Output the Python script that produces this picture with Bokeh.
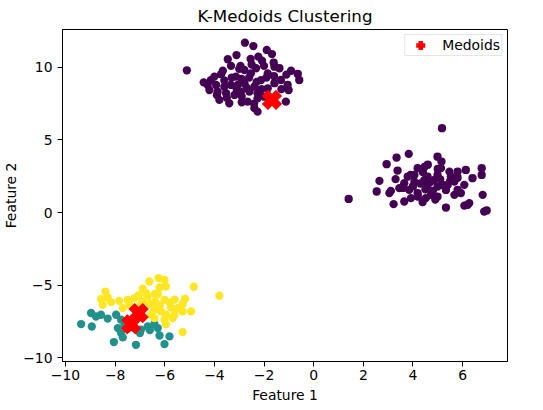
import math
from bokeh.plotting import figure
from bokeh.models import Range1d, FixedTicker, Legend, LegendItem
from bokeh.embed import file_html
from bokeh.resources import INLINE

# ---- data ----
# cluster 0 (purple): upper blob
purple_top_x = [-2.77, -2.43, -1.89, -1.68, -3.11, -3.46, -5.11, -2.23, -2.54, -2.08,
                -1.61, -1.58, -1.38, -0.91, -0.64, -0.58, -2.95, -3.33, -3.66, -3.73,
                -4.00, -4.14, -4.43, -4.20, -3.87, -3.80, -3.40, -2.90, -2.39, -2.26,
                -1.12, -1.01, -1.05, -1.32, -1.85, -2.12, -2.53, -2.79, -3.13, -3.33,
                -3.53, -2.59, -2.26, -1.85, -1.58, -2.39, -2.93, -3.19, -3.60, -3.93,
                -4.27, -3.06, -2.66, -2.79, -2.32, -2.26, -1.99,
                -2.90, -2.60, -2.30, -3.10, -3.30, -1.90, -2.70, -1.60, -3.60, -2.50,
                -2.10, -2.90, -1.30, -1.10, -3.90, -2.40, -1.80, -3.50, -2.00, -3.00]
purple_top_y = [11.70, 11.47, 11.20, 10.92, 10.85, 10.56, 9.80, 10.74, 10.58, 10.46,
                10.32, 10.05, 9.94, 9.77, 9.55, 9.13, 10.10, 10.10, 9.77, 9.53,
                9.36, 9.13, 8.97, 8.44, 8.33, 7.76, 7.53, 7.60, 7.19, 6.95,
                7.64, 8.44, 8.79, 9.13, 9.59, 9.13, 9.59, 8.91, 9.36, 8.79,
                8.22, 8.33, 8.22, 8.56, 8.91, 8.67, 8.33, 8.10, 8.67, 8.79,
                8.79, 8.79, 7.64, 9.82, 9.94, 7.87, 7.98,
                9.20, 9.30, 9.00, 8.50, 9.30, 9.30, 8.60, 9.40, 9.10, 10.20,
                8.50, 8.00, 8.50, 9.50, 8.10, 7.50, 7.80, 7.90, 10.10, 9.90]
# cluster 0 (purple): right blob
purple_right_x = [5.17, 1.41, 3.83, 3.34, 2.94, 3.38, 2.65, 2.54, 3.05, 3.22,
                  3.65, 4.99, 5.15, 4.48, 4.19, 3.79, 4.06, 4.59, 4.99, 5.47,
                  5.80, 6.13, 6.77, 6.77, 6.40, 6.81, 6.87, 6.97, 6.20, 6.07,
                  5.33, 4.39, 5.93, 6.07, 5.67, 5.40, 4.99, 4.72, 4.59, 4.19,
                  3.85, 3.65, 3.45, 3.11, 4.06, 4.46, 4.86, 5.13, 5.53, 5.80,
                  5.33, 4.99, 4.52, 3.92, 5.67, 6.27,
                  4.30, 4.70, 5.10, 4.00, 4.50, 5.20, 3.90, 4.40, 4.80, 5.50,
                  4.20, 3.60, 5.00, 4.60, 5.80, 3.30, 4.90]
purple_right_y = [5.81, 0.94, 4.04, 3.79, 3.33, 2.89, 2.18, 1.45, 1.34, 0.58,
                  0.76, 3.85, 3.51, 3.17, 3.06, 2.48, 2.59, 2.48, 2.59, 2.82,
                  2.82, 2.94, 3.06, 2.59, 2.37, 1.22, 0.07, 0.15, 0.53, 0.48,
                  0.34, 0.72, 1.34, 1.91, 2.13, 1.91, 1.79, 1.22, 1.91, 1.34,
                  1.56, 2.02, 1.68, 1.49, 2.13, 2.25, 2.25, 3.06, 2.48, 1.56,
                  1.56, 1.10, 0.99, 0.99, 1.22, 0.65,
                  2.00, 2.10, 2.30, 1.80, 1.60, 1.90, 2.60, 2.80, 1.50, 2.20,
                  1.10, 1.70, 3.00, 3.30, 2.40, 2.30, 0.90]
# cluster 1 (teal)
teal_x = [-9.37, -8.94, -8.97, -8.77, -8.57, -7.96, -7.76, -7.62, -7.76, -7.69,
          -8.05, -7.16, -6.96, -6.69, -6.42, -6.21, -5.81, -6.01, -6.28, -7.89,
          -7.22, -7.30, -7.00, -6.60, -7.50, -8.30]
teal_y = [-7.68, -7.85, -6.92, -7.16, -7.04, -7.04, -7.38, -7.73, -8.30, -8.60,
          -8.92, -9.11, -8.07, -7.85, -7.68, -8.47, -8.53, -9.06, -7.96, -7.96,
          -7.38, -7.90, -8.30, -8.10, -8.00, -7.30]
# cluster 2 (yellow)
yellow_x = [-3.80, -4.83, -6.25, -6.62, -6.01, -5.95, -6.21, -6.89, -6.75, -7.06,
            -6.28, -6.39, -6.01, -8.39, -8.30, -8.57, -8.50, -8.16, -7.83, -7.49,
            -7.22, -7.42, -7.69, -6.69, -5.18, -5.28, -5.48, -5.75, -4.94, -5.28,
            -5.61, -5.95, -6.15, -6.42, -6.55, -6.01, -5.95, -5.28, -5.68, -6.42,
            -6.89, -6.60, -6.20, -5.80, -7.00, -6.40, -5.60]
yellow_y = [-5.73, -5.11, -4.51, -4.75, -4.63, -5.09, -5.16, -5.25, -5.55, -5.71,
            -5.62, -6.13, -6.01, -5.44, -5.85, -5.96, -6.35, -6.17, -6.08, -6.01,
            -5.89, -6.35, -6.58, -5.78, -5.94, -6.30, -6.58, -6.54, -6.81, -6.81,
            -7.04, -7.04, -6.81, -6.70, -7.04, -7.38, -7.70, -8.23, -7.27, -7.27,
            -6.13, -6.30, -6.40, -6.20, -6.40, -5.60, -6.00]
# medoids
medoid_x = [-1.68, -7.35, -7.05]
medoid_y = [7.76, -7.70, -6.92]

# axis settings
x_ticks = [-10, -8, -6, -4, -2, 0, 2, 4, 6]
y_ticks = [-10, -5, 0, 5, 10]

PURPLE, TEAL, YELLOW = "#440154", "#21918c", "#fde725"
FONT = "DejaVu Sans"


def minus(v):
    return str(v).replace("-", "\u2212")


p = figure(frame_width=445, frame_height=332,
           x_range=Range1d(-10.12, 7.81), y_range=Range1d(-10.26, 12.61),
           output_backend="svg", toolbar_location=None,
           min_border_left=60, min_border_right=22, min_border_top=28,
           min_border_bottom=30,
           title="K-Medoids Clustering")
p.title.align = "center"
p.title.text_font = FONT
p.title.text_font_size = "16.7px"
p.title.text_font_style = "normal"
p.title.text_color = "black"
p.title.standoff = 7

p.background_fill_color = "white"
p.border_fill_color = "white"
p.outline_line_color = "black"
p.outline_line_width = 1
p.xgrid.visible = False
p.ygrid.visible = False

p.xaxis.ticker = FixedTicker(ticks=x_ticks)
p.yaxis.ticker = FixedTicker(ticks=y_ticks)
p.xaxis.major_label_overrides = {t: minus(t) for t in x_ticks}
p.yaxis.major_label_overrides = {t: minus(t) for t in y_ticks}
p.xaxis.axis_label = "Feature 1"
p.yaxis.axis_label = "Feature 2"
for ax in (p.xaxis, p.yaxis):
    ax.axis_line_color = "black"
    ax.major_tick_line_color = "black"
    ax.major_tick_in = 0
    ax.major_tick_out = 5
    ax.minor_tick_line_color = None
    ax.major_label_text_font = FONT
    ax.major_label_text_font_size = "13.9px"
    ax.major_label_text_color = "black"
    ax.axis_label_text_font = FONT
    ax.axis_label_text_font_size = "13.9px"
    ax.axis_label_text_font_style = "normal"
    ax.axis_label_text_color = "black"
p.xaxis.major_label_standoff = 3
p.xaxis.axis_label_standoff = 4
p.yaxis.major_label_standoff = 5
p.yaxis.axis_label_standoff = 1

PT = 8.3
p.scatter(purple_top_x, purple_top_y, size=PT, color=PURPLE, line_color=None)
p.scatter(purple_right_x, purple_right_y, size=PT, color=PURPLE, line_color=None)
p.scatter(teal_x, teal_y, size=PT, color=TEAL, line_color=None)
p.scatter(yellow_x, yellow_y, size=PT, color=YELLOW, line_color=None)

med_r = p.scatter(medoid_x, medoid_y, marker="plus", angle=math.pi / 4, size=18.2,
                  fill_color="red", line_color="red", line_width=1.8,
                  line_join="miter")

legend = Legend(items=[LegendItem(label="Medoids", renderers=[med_r])],
                location="top_right")
legend.label_text_font = FONT
legend.label_text_font_size = "13.9px"
legend.label_text_color = "black"
legend.border_line_color = "#cccccc"
legend.border_line_width = 1
legend.background_fill_alpha = 0.8
legend.margin = 5
legend.padding = 1
legend.spacing = 0
legend.glyph_width = 28
legend.glyph_height = 18
legend.label_height = 18
legend.label_standoff = 8
p.add_layout(legend)

open("out.html", "w").write(file_html(p, INLINE))
